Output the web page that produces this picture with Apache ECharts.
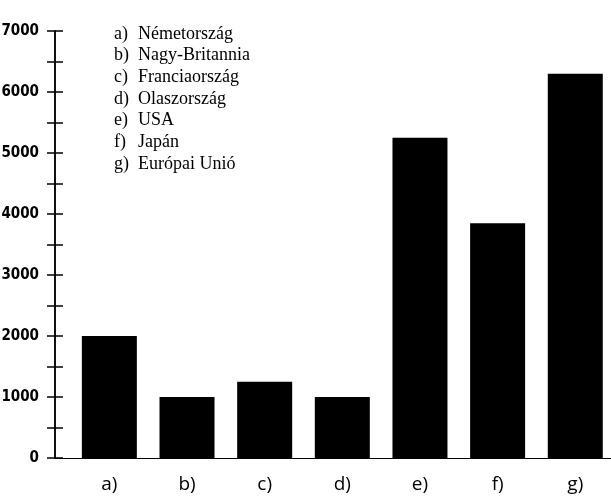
<!DOCTYPE html>
<html>
<head>
<meta charset="utf-8">
<script src="https://cdn.jsdelivr.net/npm/echarts@6/dist/echarts.min.js"></script>
<style>html,body{margin:0;padding:0;background:#fff}#c{width:611px;height:499px}</style>
</head>
<body>
<div id="c"></div>
<script>
var letters = ['a)', 'b)', 'c)', 'd)', 'e)', 'f)', 'g)'];
var countries = ['Németország', 'Nagy-Britannia', 'Franciaország', 'Olaszország', 'USA', 'Japán', 'Európai Unió'];
var values = [2000, 1000, 1250, 1000, 5250, 3850, 6300];
var yTicks = [0, 1000, 2000, 3000, 4000, 5000, 6000, 7000];

var chart = echarts.init(document.getElementById('c'), null, {renderer: 'canvas'});
var legendText = letters.map(function (l, i) { return '{l|' + l + '}{n|' + countries[i] + '}'; }).join('\n');
var idx = letters.map(function (_, i) { return i; });

function yAxisDef(inside, labels) {
  return {
    type: 'value', min: 0, max: 7000, interval: 500,
    position: 'left',
    splitLine: {show: false},
    axisLine: {show: true, onZero: false, lineStyle: {color: '#000', width: 1.5}},
    axisTick: {show: true, inside: inside, length: 8, lineStyle: {color: '#000', width: 1.5}},
    axisLabel: labels ? {
      formatter: function (v) { return yTicks.indexOf(v) >= 0 ? String(v) : ''; },
      fontFamily: '"DejaVu Sans Condensed"', fontWeight: 'bold', fontSize: 15, color: '#000', margin: 16
    } : {show: false}
  };
}

chart.setOption({
  animation: false,
  backgroundColor: '#fff',
  title: {
    text: legendText,
    left: 109, top: 18,
    textStyle: {
      fontFamily: 'Liberation Serif', fontSize: 18, fontWeight: 'normal', color: '#000', lineHeight: 21.7,
      rich: {
        l: {fontFamily: 'Liberation Serif', fontSize: 18, width: 24, color: '#000', lineHeight: 21.7},
        n: {fontFamily: 'Liberation Serif', fontSize: 18, color: '#000', lineHeight: 21.7}
      }
    }
  },
  grid: {left: 55, right: 0, top: 31, bottom: 41, containLabel: false, outerBoundsMode: 'none'},
  xAxis: {
    type: 'value', min: -0.7, max: 6.46,
    splitLine: {show: false},
    axisLine: {show: true, onZero: false, lineStyle: {color: '#000', width: 1.2}},
    axisTick: {show: false},
    axisLabel: {
      customValues: idx,
      formatter: function (v) { return letters[Math.round(v)] || ''; },
      fontFamily: 'Open Sans', fontSize: 19, color: '#000', margin: 17
    }
  },
  yAxis: [yAxisDef(false, true), yAxisDef(true, false)],
  series: [{
    type: 'bar',
    barWidth: 55,
    itemStyle: {color: '#000'},
    data: values.map(function (v, i) { return [i, v]; })
  }]
});
</script>
</body>
</html>
